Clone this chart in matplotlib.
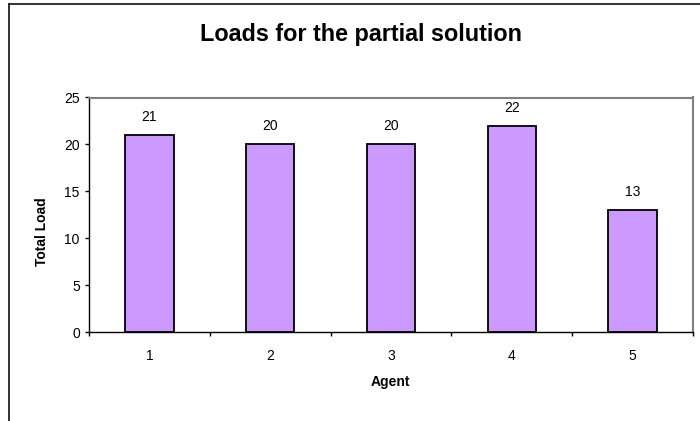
import matplotlib
matplotlib.use("Agg")
import matplotlib.pyplot as plt
from matplotlib.lines import Line2D
from matplotlib.ticker import FixedLocator

plt.rcParams['font.family'] = ['Liberation Sans', 'DejaVu Sans']

agents = ["1", "2", "3", "4", "5"]
loads = [21, 20, 20, 22, 13]
y_ticks = [0, 5, 10, 15, 20, 25]

W, H = 700, 421
fig = plt.figure(figsize=(W / 100, H / 100), dpi=100)

# chart frame (open on the right and bottom edges of the canvas)
fig.add_artist(Line2D([9 / W, 9 / W], [0, 1 - 4 / H], transform=fig.transFigure,
                      color="#222222", lw=1.3))
fig.add_artist(Line2D([9 / W, 1], [1 - 4 / H, 1 - 4 / H], transform=fig.transFigure,
                      color="#222222", lw=1.3))

left, right = 89 / W, 693 / W
bottom, top = 1 - 332 / H, 1 - 97.5 / H
ax = fig.add_axes([left, bottom, right - left, top - bottom])

x = list(range(len(agents)))
ax.bar(x, loads, width=0.4, color="#CC99FF", edgecolor="black", linewidth=1.3, zorder=3)

for xi, v in zip(x, loads):
    ax.annotate(str(v), (xi, v), xytext=(0, 8), textcoords="offset points",
                ha="center", va="bottom", fontsize=10)

ax.set_xlim(-0.5, len(agents) - 0.5)
ax.set_ylim(0, 25)
ax.set_yticks(y_ticks)
ax.set_yticklabels([str(t) for t in y_ticks], fontsize=10)

ax.set_xticks(x)
ax.set_xticklabels(agents, fontsize=10)
ax.xaxis.set_minor_locator(FixedLocator([i - 0.5 for i in range(len(agents) + 1)]))
ax.tick_params(axis="x", which="major", length=0, pad=12)
ax.tick_params(axis="x", which="minor", length=3, width=1, direction="out", color="black")
ax.tick_params(axis="y", which="major", length=3, width=1, direction="out", pad=3.6)

for s in ("top", "right"):
    ax.spines[s].set_color("#808080")
    ax.spines[s].set_linewidth(1.5)
for s in ("left", "bottom"):
    ax.spines[s].set_color("black")
    ax.spines[s].set_linewidth(1.0)

fig.text(390 / W, 1 - 386 / H, "Agent", ha="center", va="baseline",
         fontsize=10, fontweight="bold")
fig.text(42.5 / W, 1 - 232 / H, "Total Load", ha="center", va="center", rotation=90,
         rotation_mode="anchor", fontsize=10, fontweight="bold")

fig.text(361 / W, 1 - 40.7 / H, "Loads for the partial solution", ha="center", va="baseline",
         fontsize=16.8, fontweight="bold")

fig.savefig("out.png", dpi=100)
